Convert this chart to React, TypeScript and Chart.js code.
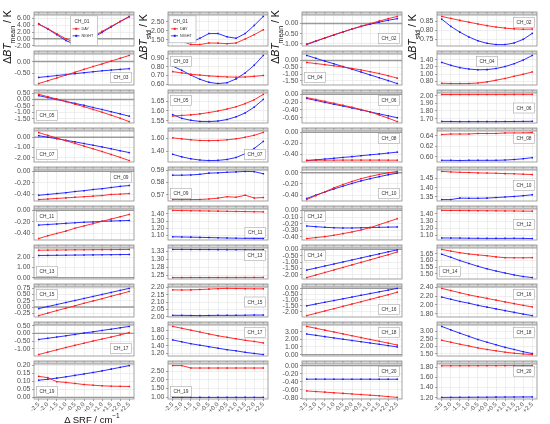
import { useEffect, useRef } from 'react'
import { Chart, registerables, type Plugin, type ChartArea } from 'chart.js'

Chart.register(...registerables)

// x axis: SRF shift in cm-1
const SRF_SHIFT = [-2.5, -2.0, -1.5, -1.0, -0.5, 0.0, 0.5, 1.0, 1.5, 2.0, 2.5]
const SHIFT_LABELS = ['-2.5', '-2.0', '-1.5', '-1.0', '-0.5', '+0.0', '+0.5', '+1.0', '+1.5', '+2.0', '+2.5']
const ODD_CHANNELS = ['CH_01', 'CH_03', 'CH_05', 'CH_07', 'CH_09', 'CH_11', 'CH_13', 'CH_15', 'CH_17', 'CH_19']
const EVEN_CHANNELS = ['CH_02', 'CH_04', 'CH_06', 'CH_08', 'CH_10', 'CH_12', 'CH_14', 'CH_16', 'CH_18', 'CH_20']
const SERIES = ['DAY', 'NIGHT']

// ΔBT mean, odd channels
const MEAN_ODD_DAY = [
  [4.25, 3.0, 1.5, 0.0, -1.1, -0.75, 0.7, 2.2, 3.7, 5.1, 6.45],
  [-0.93, -0.81, -0.69, -0.57, -0.45, -0.33, -0.21, -0.10, 0.02, 0.14, 0.26],
  [0.40, 0.22, 0.03, -0.16, -0.36, -0.56, -0.77, -0.99, -1.22, -1.46, -1.72],
  [0.45, 0.18, -0.08, -0.35, -0.60, -0.87, -1.13, -1.40, -1.68, -1.97, -2.28],
  [-0.49, -0.48, -0.47, -0.46, -0.45, -0.44, -0.43, -0.42, -0.40, -0.395, -0.385],
  [-0.49, -0.44, -0.40, -0.36, -0.31, -0.27, -0.23, -0.19, -0.15, -0.11, -0.07],
  [2.70, 2.71, 2.72, 2.73, 2.74, 2.74, 2.75, 2.76, 2.76, 2.77, 2.78],
  [-0.34, -0.24, -0.14, -0.045, 0.05, 0.15, 0.24, 0.33, 0.43, 0.52, 0.62],
  [-1.38, -1.22, -1.07, -0.92, -0.78, -0.64, -0.50, -0.37, -0.24, -0.10, 0.05],
  [0.131, 0.123, 0.098, 0.093, 0.087, 0.080, 0.076, 0.072, 0.070, 0.069, 0.068],
]
const MEAN_ODD_NIGHT = [
  [4.4, 2.9, 1.2, -0.5, -1.7, -1.3, 0.3, 1.9, 3.5, 5.1, 6.6],
  [-0.67, -0.63, -0.59, -0.55, -0.51, -0.47, -0.43, -0.39, -0.36, -0.33, -0.30],
  [0.30, 0.15, 0.00, -0.15, -0.30, -0.45, -0.62, -0.78, -0.95, -1.12, -1.30],
  [0.15, 0.00, -0.15, -0.30, -0.45, -0.62, -0.78, -0.95, -1.13, -1.32, -1.50],
  [-0.415, -0.40, -0.385, -0.37, -0.35, -0.335, -0.315, -0.30, -0.28, -0.26, -0.245],
  [-0.255, -0.245, -0.235, -0.225, -0.215, -0.205, -0.20, -0.19, -0.185, -0.18, -0.175],
  [2.18, 2.19, 2.20, 2.21, 2.22, 2.23, 2.24, 2.25, 2.26, 2.27, 2.28],
  [-0.06, 0.02, 0.10, 0.18, 0.26, 0.34, 0.42, 0.50, 0.58, 0.66, 0.74],
  [-0.40, -0.32, -0.24, -0.16, -0.07, 0.02, 0.10, 0.19, 0.27, 0.36, 0.45],
  [0.107, 0.113, 0.120, 0.128, 0.137, 0.146, 0.155, 0.165, 0.176, 0.187, 0.198],
]

// ΔBT std, odd channels
const STD_ODD_DAY = [
  [1.64, 1.43, 1.24, 1.24, 1.33, 1.32, 1.29, 1.33, 1.55, 1.79, 2.06],
  [0.745, 0.73, 0.715, 0.705, 0.695, 0.688, 0.683, 0.68, 0.682, 0.69, 0.70],
  [1.574, 1.577, 1.580, 1.585, 1.592, 1.600, 1.610, 1.622, 1.638, 1.658, 1.686],
  [1.605, 1.59, 1.575, 1.565, 1.562, 1.565, 1.575, 1.59, 1.615, 1.645, 1.69],
  [0.5659, 0.5659, 0.5659, 0.5660, 0.5664, 0.5671, 0.5683, 0.5678, 0.5695, 0.5672, 0.5676],
  [1.447, 1.445, 1.443, 1.441, 1.439, 1.437, 1.435, 1.433, 1.431, 1.429, 1.427],
  [1.2430, 1.2430, 1.2432, 1.2432, 1.2433, 1.2433, 1.2434, 1.2434, 1.2435, 1.2435, 1.2436],
  [2.182, 2.181, 2.182, 2.184, 2.187, 2.190, 2.192, 2.191, 2.190, 2.189, 2.189],
  [1.91, 1.86, 1.81, 1.76, 1.71, 1.66, 1.62, 1.58, 1.54, 1.51, 1.47],
  [2.82, 2.82, 2.68, 2.68, 2.68, 2.68, 2.68, 2.68, 2.68, 2.68, 2.68],
]
const STD_ODD_NIGHT = [
  [1.74, 1.55, 1.36, 1.59, 1.85, 1.85, 1.67, 1.59, 1.85, 2.30, 2.80],
  [0.81, 0.76, 0.705, 0.655, 0.62, 0.605, 0.615, 0.66, 0.73, 0.82, 0.935],
  [1.581, 1.562, 1.552, 1.546, 1.545, 1.548, 1.556, 1.570, 1.590, 1.620, 1.660],
  [1.35, 1.31, 1.28, 1.26, 1.252, 1.255, 1.27, 1.30, 1.36, 1.44, 1.55],
  [0.5859, 0.5859, 0.5861, 0.5866, 0.5876, 0.5878, 0.5883, 0.5886, 0.5890, 0.5888, 0.5871],
  [1.083, 1.080, 1.078, 1.075, 1.072, 1.069, 1.066, 1.064, 1.062, 1.060, 1.058],
  [1.3310, 1.3310, 1.3308, 1.3306, 1.3305, 1.3304, 1.3303, 1.3302, 1.3301, 1.3300, 1.3300],
  [2.011, 2.011, 2.010, 2.009, 2.010, 2.011, 2.011, 2.011, 2.012, 2.013, 2.013],
  [1.55, 1.50, 1.45, 1.41, 1.37, 1.33, 1.29, 1.26, 1.22, 1.19, 1.16],
  [0.990, 0.990, 0.991, 0.991, 0.991, 0.992, 0.992, 0.992, 0.993, 0.993, 0.993],
]

// ΔBT mean, even channels
const MEAN_EVEN_DAY = [
  [-1.00, -0.85, -0.70, -0.55, -0.41, -0.27, -0.13, 0.00, 0.12, 0.24, 0.35],
  [-0.14, -0.22, -0.30, -0.39, -0.48, -0.58, -0.69, -0.82, -0.96, -1.12, -1.30],
  [-0.085, -0.13, -0.18, -0.23, -0.28, -0.33, -0.39, -0.45, -0.53, -0.61, -0.70],
  [-0.515, -0.513, -0.512, -0.512, -0.511, -0.511, -0.511, -0.511, -0.511, -0.512, -0.513],
  [-0.48, -0.41, -0.34, -0.27, -0.21, -0.155, -0.105, -0.065, -0.03, 0.00, 0.025],
  [-0.425, -0.41, -0.395, -0.375, -0.35, -0.325, -0.295, -0.26, -0.215, -0.17, -0.125],
  [-2.22, -2.02, -1.82, -1.62, -1.42, -1.22, -1.02, -0.82, -0.62, -0.42, -0.20],
  [-2.35, -2.15, -1.95, -1.75, -1.55, -1.35, -1.15, -0.95, -0.75, -0.55, -0.33],
  [3.70, 3.46, 3.21, 2.97, 2.72, 2.48, 2.23, 1.99, 1.75, 1.51, 1.25],
  [-0.625, -0.64, -0.655, -0.67, -0.685, -0.70, -0.715, -0.73, -0.745, -0.765, -0.785],
]
const MEAN_EVEN_NIGHT = [
  [-1.03, -0.87, -0.71, -0.56, -0.41, -0.27, -0.14, -0.03, 0.07, 0.16, 0.24],
  [0.38, 0.17, -0.04, -0.24, -0.44, -0.64, -0.85, -1.06, -1.27, -1.48, -1.70],
  [-0.105, -0.155, -0.205, -0.255, -0.30, -0.35, -0.40, -0.45, -0.50, -0.55, -0.60],
  [-0.52, -0.506, -0.492, -0.477, -0.462, -0.447, -0.43, -0.414, -0.398, -0.381, -0.364],
  [-0.46, -0.40, -0.345, -0.29, -0.24, -0.19, -0.145, -0.105, -0.07, -0.035, -0.005],
  [-0.235, -0.245, -0.255, -0.262, -0.265, -0.265, -0.262, -0.258, -0.255, -0.252, -0.25],
  [-1.63, -1.47, -1.31, -1.15, -0.99, -0.83, -0.67, -0.51, -0.35, -0.19, -0.04],
  [-1.50, -1.35, -1.20, -1.05, -0.90, -0.75, -0.60, -0.45, -0.30, -0.15, 0.00],
  [2.70, 2.53, 2.36, 2.19, 2.02, 1.85, 1.69, 1.52, 1.35, 1.18, 1.00],
  [-0.335, -0.335, -0.335, -0.335, -0.336, -0.336, -0.336, -0.336, -0.337, -0.337, -0.337],
]

// ΔBT std, even channels
const STD_EVEN_DAY = [
  [0.877, 0.866, 0.855, 0.845, 0.835, 0.826, 0.818, 0.812, 0.808, 0.806, 0.807],
  [0.745, 0.738, 0.736, 0.738, 0.752, 0.784, 0.83, 0.88, 0.94, 0.995, 1.06],
  [2.014, 2.014, 2.015, 2.015, 2.015, 2.015, 2.015, 2.015, 2.016, 2.016, 2.016],
  [0.642, 0.643, 0.643, 0.643, 0.644, 0.644, 0.644, 0.645, 0.645, 0.645, 0.646],
  [1.488, 1.485, 1.483, 1.482, 1.480, 1.479, 1.478, 1.476, 1.475, 1.473, 1.471],
  [1.448, 1.447, 1.446, 1.445, 1.444, 1.443, 1.442, 1.441, 1.440, 1.438, 1.437],
  [1.685, 1.672, 1.660, 1.650, 1.643, 1.637, 1.628, 1.622, 1.621, 1.621, 1.622],
  [2.38, 2.33, 2.28, 2.23, 2.19, 2.15, 2.11, 2.07, 2.03, 1.99, 1.955],
  [2.41, 2.28, 2.15, 2.03, 1.90, 1.80, 1.71, 1.62, 1.55, 1.50, 1.46],
  [1.830, 1.831, 1.831, 1.832, 1.832, 1.833, 1.833, 1.834, 1.834, 1.835, 1.835],
]
const STD_EVEN_NIGHT = [
  [0.862, 0.822, 0.790, 0.763, 0.742, 0.728, 0.721, 0.721, 0.730, 0.750, 0.783],
  [1.325, 1.245, 1.18, 1.14, 1.12, 1.125, 1.155, 1.21, 1.29, 1.39, 1.52],
  [1.663, 1.662, 1.660, 1.660, 1.660, 1.660, 1.660, 1.661, 1.662, 1.663, 1.664],
  [0.5935, 0.5935, 0.5930, 0.5935, 0.5935, 0.5935, 0.5935, 0.5940, 0.5950, 0.5965, 0.5985],
  [1.336, 1.336, 1.344, 1.343, 1.343, 1.344, 1.347, 1.350, 1.353, 1.357, 1.362],
  [1.064, 1.063, 1.062, 1.060, 1.059, 1.058, 1.058, 1.058, 1.059, 1.058, 1.055],
  [1.648, 1.625, 1.600, 1.578, 1.556, 1.537, 1.520, 1.505, 1.490, 1.478, 1.470],
  [2.18, 2.13, 2.08, 2.04, 1.99, 1.95, 1.91, 1.87, 1.83, 1.79, 1.755],
  [3.33, 3.10, 2.88, 2.67, 2.46, 2.28, 2.11, 1.94, 1.80, 1.65, 1.53],
  [1.205, 1.206, 1.207, 1.208, 1.209, 1.210, 1.211, 1.212, 1.213, 1.214, 1.215],
]

// y tick spacing per panel
const MEAN_ODD_STEP = [2, 0.5, 0.5, 1, 0.2, 0.2, 1, 0.25, 0.5, 0.05]
const STD_ODD_STEP = [0.5, 0.1, 0.05, 0.2, 0.01, 0.1, 0.025, 0.05, 0.2, 0.5]
const MEAN_EVEN_STEP = [0.5, 0.5, 0.2, 0.2, 0.2, 0.1, 0.5, 0.5, 1, 0.2]
const STD_EVEN_STEP = [0.05, 0.2, 0.1, 0.02, 0.05, 0.1, 0.05, 0.2, 0.5, 0.2]

// where the channel tag sits: t/m/b + l/c/r, or a legend box
const MEAN_ODD_SPOT = ['legend-c', 'br', 'bl', 'bl', 'tr', 'tl', 'bl', 'tl', 'br', 'bl']
const STD_ODD_SPOT = ['legend-l', 'tl', 'tl', 'br', 'bl', 'br', 'tr', 'mr', 'tr', 'bl']
const MEAN_EVEN_SPOT = ['br', 'bl', 'tr', 'tr', 'br', 'tl', 'tl', 'br', 'tr', 'tr']
const STD_EVEN_SPOT = ['tr', 'tc', 'mr', 'tr', 'mr', 'mr', 'bl', 'tr', 'tr', 'tr']

const COLUMNS = [
  { names: ODD_CHANNELS, day: MEAN_ODD_DAY, night: MEAN_ODD_NIGHT, steps: MEAN_ODD_STEP, spots: MEAN_ODD_SPOT, stat: 'mean' },
  { names: ODD_CHANNELS, day: STD_ODD_DAY, night: STD_ODD_NIGHT, steps: STD_ODD_STEP, spots: STD_ODD_SPOT, stat: 'std' },
  { names: EVEN_CHANNELS, day: MEAN_EVEN_DAY, night: MEAN_EVEN_NIGHT, steps: MEAN_EVEN_STEP, spots: MEAN_EVEN_SPOT, stat: 'mean' },
  { names: EVEN_CHANNELS, day: STD_EVEN_DAY, night: STD_EVEN_NIGHT, steps: STD_EVEN_STEP, spots: STD_EVEN_SPOT, stat: 'std' },
]

const FONT = '"Liberation Sans", Arial, sans-serif'
const DAY_COLOR = 'rgb(255,25,25)'
const NIGHT_COLOR = 'rgb(25,25,255)'
const GRID = '#e4e4e4'
const TICK_TEXT = '#4d4d4d'
const TICK_DARK = '#666'
const PANEL_BORDER = '#8c8c8c'
const STRIP_FILL = '#d6d6d6'
const ZERO_LINE = '#9a9a9a'
const TAG_BORDER = '#a8a8a8'

const COL_LEFT = [34, 168, 302, 437]
const TITLE_X = [10, 146, 278, 415]
const PLOT_W = 103
const Y_LABEL_W = 34
const STRIP_H = 3
const X_LABEL_H = 24
// x range a touch wider than ±2.75 so Chart.js keeps its ticks on the 0.5 grid
const X_LIMIT = 2.76
const ROW_TOP = Array.from({ length: 11 }, (_, r) => Math.round(11 + 38.8 * r))

Chart.defaults.font.family = FONT

const fmt2 = (v: number) => (Math.round(v * 100 + 1e-6) / 100).toFixed(2)
const shiftLabel = (v: number) => SHIFT_LABELS[SRF_SHIFT.indexOf(Math.round(v * 10) / 10)] ?? ''

function drawTag(ctx: CanvasRenderingContext2D, a: ChartArea, text: string, spot: string) {
  ctx.font = `4.8px ${FONT}`
  const w = ctx.measureText(text).width + 6
  const h = 10
  const m = 2.5
  const x = spot[1] === 'l' ? a.left + m : spot[1] === 'r' ? a.right - m - w : (a.left + a.right - w) / 2
  const y = spot[0] === 't' ? a.top + m : spot[0] === 'b' ? a.bottom - m - h : (a.top + a.bottom - h) / 2
  ctx.fillStyle = '#fff'
  ctx.fillRect(x, y, w, h)
  ctx.strokeStyle = TAG_BORDER
  ctx.lineWidth = 0.6
  ctx.strokeRect(x, y, w, h)
  ctx.fillStyle = '#333'
  ctx.textBaseline = 'middle'
  ctx.textAlign = 'left'
  ctx.fillText(text, x + 3, y + h / 2 + 0.3)
}

function drawLegend(ctx: CanvasRenderingContext2D, a: ChartArea, title: string, centred: boolean) {
  const w = 27
  const h = centred ? a.bottom - a.top - 1.5 : 27
  const x = centred ? (a.left + a.right - w) / 2 : a.left + 1
  const y = a.top + 0.8
  ctx.fillStyle = '#fff'
  ctx.fillRect(x, y, w, h)
  ctx.strokeStyle = TAG_BORDER
  ctx.lineWidth = 0.6
  ctx.strokeRect(x, y, w, h)
  ctx.textBaseline = 'middle'
  ctx.textAlign = 'left'
  ctx.fillStyle = '#333'
  ctx.font = `4.8px ${FONT}`
  ctx.fillText(title, x + 4, y + 6)
  ctx.font = `3.8px ${FONT}`
  SERIES.forEach((s, i) => {
    const ly = y + 13 + i * 7
    const c = i === 0 ? DAY_COLOR : NIGHT_COLOR
    ctx.strokeStyle = c
    ctx.lineWidth = 0.8
    ctx.beginPath()
    ctx.moveTo(x + 2, ly)
    ctx.lineTo(x + 9, ly)
    ctx.stroke()
    ctx.fillStyle = c
    ctx.fillRect(x + 4.7, ly - 1, 2, 2)
    ctx.fillStyle = '#333'
    ctx.fillText(s, x + 11, ly)
  })
}

interface PanelProps {
  name: string
  day: number[]
  night: number[]
  step: number
  spot: string
  withZero: boolean
  left: number
  top: number
  height: number
  bottom: boolean
}

function Panel({ name, day, night, step, spot, withZero, left, top, height, bottom }: PanelProps) {
  const canvasRef = useRef<HTMLCanvasElement>(null)

  useEffect(() => {
    if (!canvasRef.current) return
    let lo = Math.min(...day, ...night)
    let hi = Math.max(...day, ...night)
    if (withZero) {
      lo = Math.min(lo, 0)
      hi = Math.max(hi, 0)
    }
    const pad = (hi - lo) * 0.05
    const yMin = lo - pad
    let yMax = hi + pad
    // keep the span off an exact multiple of the step, or Chart.js starts ticks at min
    const n = (yMax - yMin) / step
    if (Math.abs(n - Math.round(n)) < 0.01) yMax += step * 0.02

    const decor: Plugin<'line'> = {
      id: 'panelDecor',
      beforeDatasetsDraw(chart) {
        if (!withZero) return
        const { ctx, chartArea: a, scales } = chart
        const y = scales.y.getPixelForValue(0)
        if (y < a.top || y > a.bottom) return
        ctx.save()
        ctx.strokeStyle = ZERO_LINE
        ctx.lineWidth = 1.4
        ctx.beginPath()
        ctx.moveTo(a.left, y)
        ctx.lineTo(a.right, y)
        ctx.stroke()
        ctx.restore()
      },
      afterDraw(chart) {
        const { ctx, chartArea: a, scales } = chart
        ctx.save()
        // grey strip on top of the panel
        ctx.fillStyle = STRIP_FILL
        ctx.fillRect(a.left, a.top - STRIP_H, a.right - a.left, STRIP_H)
        ctx.strokeStyle = TICK_DARK
        ctx.lineWidth = 0.6
        for (const t of scales.x.ticks) {
          const px = scales.x.getPixelForValue(t.value)
          ctx.beginPath()
          ctx.moveTo(px, a.top - STRIP_H)
          ctx.lineTo(px, a.top - STRIP_H + 1.6)
          ctx.stroke()
        }
        ctx.strokeStyle = PANEL_BORDER
        ctx.lineWidth = 0.8
        ctx.strokeRect(a.left, a.top - STRIP_H, a.right - a.left, a.bottom - a.top + STRIP_H)
        ctx.beginPath()
        ctx.moveTo(a.left, a.top)
        ctx.lineTo(a.right, a.top)
        ctx.stroke()
        if (spot.startsWith('legend')) drawLegend(ctx, a, name, spot === 'legend-c')
        else drawTag(ctx, a, name, spot)
        ctx.restore()
      },
    }

    const series = (vals: number[], label: string, color: string) => ({
      label,
      data: SRF_SHIFT.map((x, i) => ({ x, y: vals[i] })),
      borderColor: color,
      backgroundColor: color,
      borderWidth: 0.9,
      pointRadius: 1.1,
      pointStyle: 'rect' as const,
      pointBorderWidth: 0,
    })

    const chart = new Chart(canvasRef.current, {
      type: 'line',
      data: { datasets: [series(day, SERIES[0], DAY_COLOR), series(night, SERIES[1], NIGHT_COLOR)] },
      options: {
        animation: false,
        responsive: true,
        maintainAspectRatio: false,
        events: [],
        layout: { padding: { top: STRIP_H, right: 1, bottom: bottom ? 0 : 1, left: 0 } },
        plugins: { legend: { display: false }, tooltip: { enabled: false } },
        scales: {
          x: {
            type: 'linear',
            min: -X_LIMIT,
            max: X_LIMIT,
            afterFit: (s: any) => {
              s.height = bottom ? X_LABEL_H : 0
              s.paddingLeft = 0
              s.paddingRight = 0
            },
            border: { display: false },
            grid: { color: GRID, lineWidth: 0.6, drawTicks: bottom, tickLength: 2, tickColor: TICK_DARK },
            ticks: {
              display: bottom,
              stepSize: 0.5,
              includeBounds: false,
              autoSkip: false,
              minRotation: 45,
              maxRotation: 45,
              padding: 0,
              color: TICK_TEXT,
              font: { size: 6 },
              callback: (v: any) => shiftLabel(Number(v)),
            },
          },
          y: {
            min: yMin,
            max: yMax,
            afterFit: (s: any) => {
              s.width = Y_LABEL_W
              s.paddingTop = 0
              s.paddingBottom = 0
            },
            border: { display: false },
            grid: { color: GRID, lineWidth: 0.6, drawTicks: true, tickLength: 2, tickColor: TICK_DARK },
            ticks: {
              stepSize: step,
              includeBounds: false,
              autoSkip: false,
              padding: 1.5,
              color: TICK_TEXT,
              font: { size: 7 },
              callback: (v: any) => fmt2(Number(v)),
            },
          },
        },
      },
      plugins: [decor],
    })

    return () => chart.destroy()
  }, [name, day, night, step, spot, withZero, bottom])

  return (
    <div style={{ position: 'absolute', left, top, width: Y_LABEL_W + PLOT_W + 1, height }}>
      <canvas ref={canvasRef} />
    </div>
  )
}

export default function App() {
  return (
    <div
      style={{
        position: 'absolute',
        left: 0,
        top: 0,
        width: 550,
        height: 424,
        background: '#fff',
        fontFamily: FONT,
        overflow: 'hidden',
      }}
    >
      {COLUMNS.map((col, c) =>
        col.names.map((name, r) => {
          const bottom = r === col.names.length - 1
          const h = ROW_TOP[r + 1] - ROW_TOP[r] + (bottom ? X_LABEL_H : 0)
          return (
            <Panel
              key={`${c}-${r}`}
              name={name}
              day={col.day[r]}
              night={col.night[r]}
              step={col.steps[r]}
              spot={col.spots[r]}
              withZero={col.stat === 'mean'}
              left={COL_LEFT[c] - Y_LABEL_W}
              top={ROW_TOP[r]}
              height={h}
              bottom={bottom}
            />
          )
        })
      )}
      {COLUMNS.map((col, c) => (
        <div
          key={`t${c}`}
          style={{
            position: 'absolute',
            left: TITLE_X[c],
            top: 37,
            transform: 'translate(-50%, -50%) rotate(-90deg)',
            whiteSpace: 'nowrap',
            fontSize: 10.5,
            color: '#111',
            lineHeight: '12px',
          }}
        >
          Δ<i>BT</i>
          <sub style={{ fontSize: 7 }}>{col.stat}</sub> / K
        </div>
      ))}
      <div
        style={{
          position: 'absolute',
          left: 92,
          top: 418,
          transform: 'translate(-50%, -50%)',
          whiteSpace: 'nowrap',
          fontSize: 9.5,
          lineHeight: '10px',
          color: '#111',
        }}
      >
        Δ SRF  /  cm<sup style={{ fontSize: 6.5 }}>−1</sup>
      </div>
    </div>
  )
}
